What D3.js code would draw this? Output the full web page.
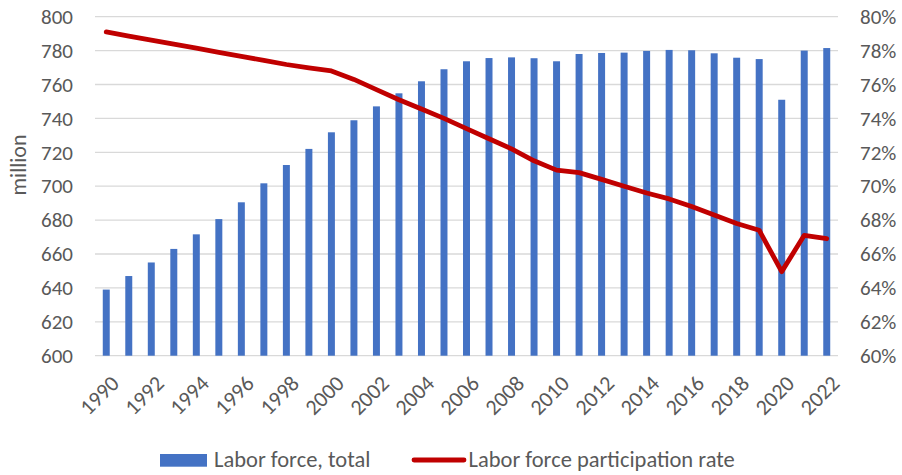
<!DOCTYPE html>
<html>
<head>
<meta charset="utf-8">
<script src="https://cdn.jsdelivr.net/npm/d3@7"></script>
<style>
  html, body { margin: 0; padding: 0; background: #fff; }
  svg text { font-family: Carlito, Lato, "Open Sans", sans-serif; fill: #595959; }
</style>
</head>
<body>
<svg id="chart" width="902" height="475"></svg>
<script>
// Years on the category axis
const years = d3.range(1990, 2023);
// Labor force, total (million)
const laborForce = [
  639, 647, 655, 663, 671.6, 680.6, 690.5, 701.7, 712.5, 722,
  731.8, 738.9, 747.1, 754.8, 761.9, 769, 773.7, 775.6, 776, 775.5,
  773.7, 778, 778.6, 778.8, 779.8, 780.4, 780.2, 778.4, 775.8, 775,
  751, 780, 781.5
];
// Labor force participation rate (%)
const participationRate = [
  79.1, 78.86, 78.62, 78.38, 78.14, 77.9, 77.66, 77.42, 77.18, 76.98,
  76.8, 76.3, 75.7, 75.1, 74.55, 74.0, 73.4, 72.8, 72.2, 71.5,
  70.95, 70.8, 70.4, 70.0, 69.6, 69.25, 68.8, 68.3, 67.8, 67.4,
  64.96, 67.1, 66.9
];
const leftTicks = d3.range(600, 801, 20);
const rightTicks = d3.range(60, 81, 2);
const yearLabels = years.filter(y => y % 2 === 0);
const seriesNames = ["Labor force, total", "Labor force participation rate"];

const svg = d3.select("#chart");
const plot = { left: 95, right: 838, top: 16.7, bottom: 355.7 };

const x = d3.scaleBand().domain(years).range([plot.left, plot.right]).paddingInner(0.69).paddingOuter(0.345);
const xc = d => x(d) + x.bandwidth() / 2;
const yL = d3.scaleLinear().domain([600, 800]).range([plot.bottom, plot.top]);
const yR = d3.scaleLinear().domain([60, 80]).range([plot.bottom, plot.top]);

// Horizontal gridlines
svg.append("g")
  .selectAll("line").data(leftTicks).join("line")
  .attr("x1", plot.left).attr("x2", plot.right)
  .attr("y1", d => yL(d)).attr("y2", d => yL(d))
  .attr("stroke", "#d9d9d9").attr("stroke-width", 1.3);

// Left axis
const leftAxis = svg.append("g")
  .attr("transform", `translate(${plot.left},0)`)
  .call(d3.axisLeft(yL).tickValues(leftTicks).tickSize(0).tickPadding(22));
leftAxis.select(".domain").remove();
leftAxis.selectAll("text").style("font-size", "21px").attr("fill", "#595959");

// Right axis
const rightAxis = svg.append("g")
  .attr("transform", `translate(${plot.right},0)`)
  .call(d3.axisRight(yR).tickValues(rightTicks).tickSize(0).tickPadding(22).tickFormat(d => d + "%"));
rightAxis.select(".domain").remove();
rightAxis.selectAll("text").style("font-size", "21px").attr("fill", "#595959");

// Axis title
svg.append("text")
  .attr("transform", `translate(26,165) rotate(-90)`)
  .attr("text-anchor", "middle")
  .style("font-size", "22px")
  .text("million");

// Bars
svg.append("g")
  .selectAll("rect").data(years).join("rect")
  .attr("x", d => x(d))
  .attr("width", x.bandwidth())
  .attr("y", (d, i) => yL(laborForce[i]))
  .attr("height", (d, i) => yL(600) - yL(laborForce[i]))
  .attr("fill", "#4472c4");

// Participation rate line
const line = d3.line()
  .x((d, i) => xc(years[i]))
  .y(d => yR(d));
svg.append("path")
  .datum(participationRate)
  .attr("d", line)
  .attr("fill", "none")
  .attr("stroke", "#c00000")
  .attr("stroke-width", 4.8)
  .attr("stroke-linejoin", "round")
  .attr("stroke-linecap", "round");

// Year labels, rotated
svg.append("g")
  .selectAll("text").data(yearLabels).join("text")
  .attr("transform", d => `translate(${xc(d) + 3},${plot.bottom + 18}) rotate(-45)`)
  .attr("text-anchor", "end")
  .attr("dy", "0.71em")
  .style("font-size", "22px")
  .text(d => d);

// Legend
const legend = svg.append("g");
legend.append("rect")
  .attr("x", 160).attr("y", 454).attr("width", 47).attr("height", 12.7)
  .attr("fill", "#4472c4");
legend.append("text")
  .attr("x", 214).attr("y", 467)
  .style("font-size", "22.5px")
  .text(seriesNames[0]);
legend.append("line")
  .attr("x1", 414).attr("x2", 464).attr("y1", 460).attr("y2", 460)
  .attr("stroke", "#c00000").attr("stroke-width", 4.8).attr("stroke-linecap", "round");
legend.append("text")
  .attr("x", 468.5).attr("y", 467)
  .style("font-size", "22.5px")
  .text(seriesNames[1]);
</script>
</body>
</html>
